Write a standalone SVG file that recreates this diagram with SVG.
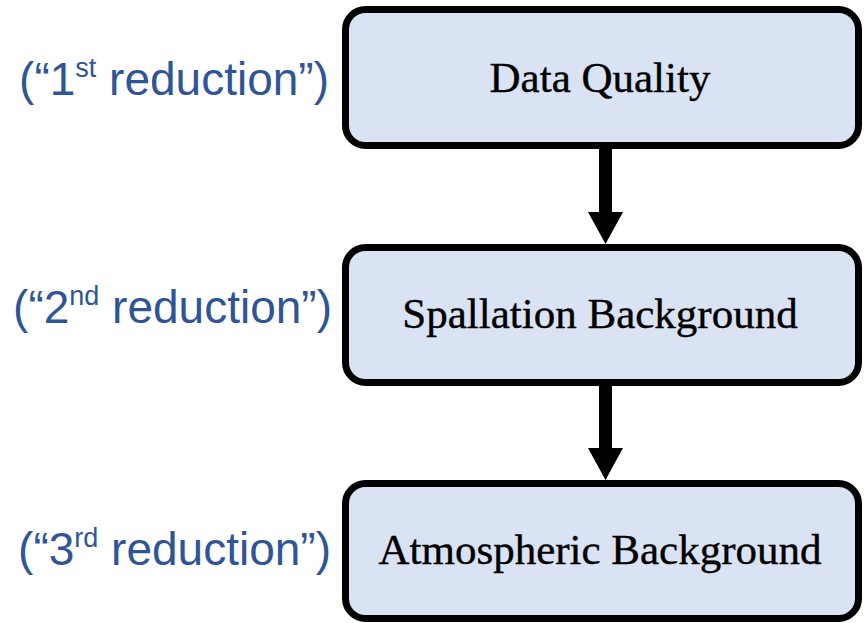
<svg xmlns="http://www.w3.org/2000/svg" width="864" height="623" viewBox="0 0 864 623">
  <style>
    .box { fill: #DAE3F3; stroke: #000; stroke-width: 7; }
    .title { font-family: "Liberation Serif", "DejaVu Serif", serif; font-size: 43px; fill: #000; stroke: #000; stroke-width: 0.4; text-anchor: middle; }
    .label { font-family: "Liberation Sans", Arial, sans-serif; font-size: 46px; fill: #2F5597; text-anchor: end; }
    .sup { font-size: 27px; }
    .shaft { stroke: #000; stroke-width: 13; fill: none; }
    .head { fill: #000; }
  </style>
  <rect width="864" height="623" fill="#fff"/>
  <g id="connectors">
    <line class="shaft" x1="605.5" y1="148" x2="605.5" y2="214"/>
    <polygon class="head" points="588,212 623,212 605.5,244"/>
    <line class="shaft" x1="605.5" y1="385" x2="605.5" y2="450"/>
    <polygon class="head" points="588,448 623,448 605.5,480"/>
  </g>
  <g id="node-data-quality">
    <rect class="box" x="345.5" y="9.5" width="513" height="136" rx="20"/>
    <text class="title" x="600" y="92">Data Quality</text>
  </g>
  <g id="node-spallation">
    <rect class="box" x="345.5" y="247.5" width="513" height="135" rx="20"/>
    <text class="title" x="600" y="328">Spallation Background</text>
  </g>
  <g id="node-atmospheric">
    <rect class="box" x="345.5" y="483.5" width="513" height="135" rx="20"/>
    <text class="title" x="600" y="564">Atmospheric Background</text>
  </g>
  <g id="label-1">
    <text class="label" x="329" y="95">(“1<tspan class="sup" dy="-18">st</tspan><tspan dy="18"> reduction”)</tspan></text>
  </g>
  <g id="label-2">
    <text class="label" x="332" y="323">(“2<tspan class="sup" dy="-18">nd</tspan><tspan dy="18"> reduction”)</tspan></text>
  </g>
  <g id="label-3">
    <text class="label" x="331" y="565">(“3<tspan class="sup" dy="-18">rd</tspan><tspan dy="18"> reduction”)</tspan></text>
  </g>
</svg>
